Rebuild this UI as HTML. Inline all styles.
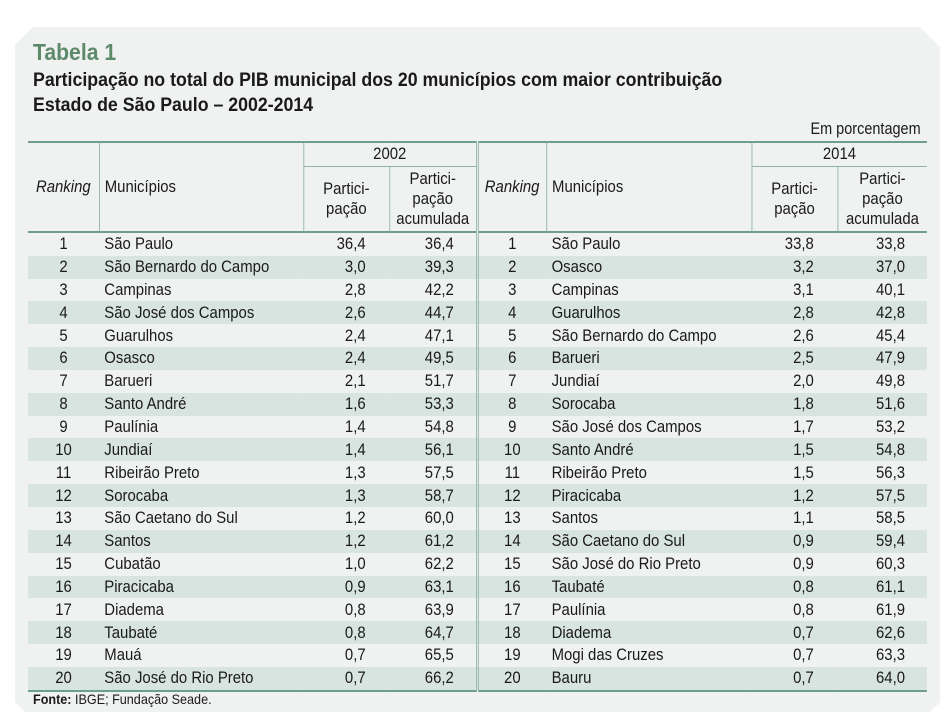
<!DOCTYPE html>
<html><head><meta charset="utf-8"><style>
body{margin:0;width:948px;height:714px;background:#fff;font-family:"Liberation Sans",sans-serif;position:relative;overflow:hidden;color:#1a1a1a}
.panel{position:absolute;left:15px;top:27px;width:925px;height:685px;background:#eff2f0;clip-path:polygon(18px 0,905px 0,925px 20px,925px 675px,915px 685px,10px 685px,0 675px,0 18px);}
.t1{position:absolute;left:33px;top:39px;font-size:23px;font-weight:bold;color:#5e8a6c;transform:scaleX(0.92);transform-origin:left}
.t2{position:absolute;left:33px;top:68px;font-size:19px;font-weight:bold;line-height:25px;transform:scaleX(0.934);transform-origin:left;white-space:nowrap}
.unit{position:absolute;right:27px;top:120px;font-size:16.5px;transform:scaleX(0.877);transform-origin:right}
table{position:absolute;left:28px;top:141px;width:1025px;border-collapse:collapse;font-size:17px;table-layout:fixed;transform:scaleX(0.877);transform-origin:left top}
td{padding:0;height:22.85px;line-height:22px;white-space:nowrap}
thead td{border-top:2px solid #6f9f8b;}
.hd td{vertical-align:middle;text-align:center}
tr.s td{background:#d8e4df}
.bl{border-left:1.5px solid #8fb3a5}
.sep{border-left:3px double #8fb3a5}
.c{text-align:center}.r{text-align:right}
.fonte{position:absolute;left:33px;top:691px;font-size:14px;transform:scaleX(0.9);transform-origin:left}
</style></head><body>
<div class="panel"></div>
<div class="t1">Tabela 1</div>
<div class="t2">Participação no total do PIB municipal dos 20 municípios com maior contribuição<br>Estado de São Paulo – 2002-2014</div>
<div class="unit">Em porcentagem</div>
<table>
<colgroup><col style="width:81px"><col style="width:233px"><col style="width:98px"><col style="width:100px"><col style="width:79px"><col style="width:234px"><col style="width:98px"><col style="width:102px"></colgroup>
<thead>
<tr class="hd" style="height:22px"><td rowspan="2" style="font-style:italic;border-bottom:2px solid #6f9f8b">Ranking</td><td rowspan="2" class="bl" style="text-align:left;padding-left:6px;border-bottom:2px solid #6f9f8b">Municípios</td><td colspan="2" class="bl" style="border-bottom:1.5px solid #8fb3a5">2002</td>
<td rowspan="2" class="sep" style="font-style:italic;border-bottom:2px solid #6f9f8b">Ranking</td><td rowspan="2" class="bl" style="text-align:left;padding-left:6px;border-bottom:2px solid #6f9f8b">Municípios</td><td colspan="2" class="bl" style="border-bottom:1.5px solid #8fb3a5">2014</td></tr>
<tr class="hd"><td class="bl" style="border-top:none;height:64px;line-height:20px;border-bottom:2px solid #6f9f8b">Partici-<br>pação</td><td class="bl" style="border-top:none;line-height:20px;border-bottom:2px solid #6f9f8b">Partici-<br>pação<br>acumulada</td><td class="bl" style="border-top:none;line-height:20px;border-bottom:2px solid #6f9f8b">Partici-<br>pação</td><td class="bl" style="border-top:none;line-height:20px;border-bottom:2px solid #6f9f8b">Partici-<br>pação<br>acumulada</td></tr>
</thead>
<tbody id="tb"></tbody>
</table>
<div class="fonte"><b>Fonte:</b> IBGE; Fundação Seade.</div>
<script>
var a=[["São Paulo","36,4","36,4","São Paulo","33,8","33,8"],["São Bernardo do Campo","3,0","39,3","Osasco","3,2","37,0"],["Campinas","2,8","42,2","Campinas","3,1","40,1"],["São José dos Campos","2,6","44,7","Guarulhos","2,8","42,8"],["Guarulhos","2,4","47,1","São Bernardo do Campo","2,6","45,4"],["Osasco","2,4","49,5","Barueri","2,5","47,9"],["Barueri","2,1","51,7","Jundiaí","2,0","49,8"],["Santo André","1,6","53,3","Sorocaba","1,8","51,6"],["Paulínia","1,4","54,8","São José dos Campos","1,7","53,2"],["Jundiaí","1,4","56,1","Santo André","1,5","54,8"],["Ribeirão Preto","1,3","57,5","Ribeirão Preto","1,5","56,3"],["Sorocaba","1,3","58,7","Piracicaba","1,2","57,5"],["São Caetano do Sul","1,2","60,0","Santos","1,1","58,5"],["Santos","1,2","61,2","São Caetano do Sul","0,9","59,4"],["Cubatão","1,0","62,2","São José do Rio Preto","0,9","60,3"],["Piracicaba","0,9","63,1","Taubaté","0,8","61,1"],["Diadema","0,8","63,9","Paulínia","0,8","61,9"],["Taubaté","0,8","64,7","Diadema","0,7","62,6"],["Mauá","0,7","65,5","Mogi das Cruzes","0,7","63,3"],["São José do Rio Preto","0,7","66,2","Bauru","0,7","64,0"]];
var h="";a.forEach(function(r,i){var n=i+1;var last=n==20?' style="border-bottom:2px solid #6f9f8b"':'';
h+='<tr class="'+(n%2==0?'s':'')+'"'+last+'><td class="c">'+n+'</td><td style="padding-left:6px">'+r[0]+'</td><td class="r" style="padding-right:27px">'+r[1]+'</td><td class="r" style="padding-right:25px">'+r[2]+'</td><td class="c sep" style="background:'+(n%2==0?'#d8e4df':'transparent')+'">'+n+'</td><td style="padding-left:6px">'+r[3]+'</td><td class="r" style="padding-right:27px">'+r[4]+'</td><td class="r" style="padding-right:25px">'+r[5]+'</td></tr>';});
document.getElementById("tb").innerHTML=h;
</script>
</body></html>
